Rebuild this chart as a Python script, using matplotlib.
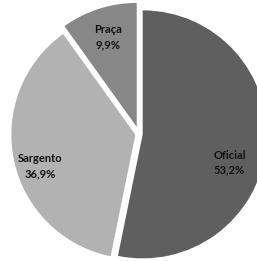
import matplotlib
matplotlib.use("Agg")
import matplotlib.pyplot as plt

# data
categories = ["Oficial", "Sargento", "Praça"]
shares = [53.2, 36.9, 9.9]
share_labels = ["53,2%", "36,9%", "9,9%"]

colors = ["#5f5f5f", "#b2b2b2", "#878787"]
explode = [0.03, 0.03, 0.06]
# label centres in data units (pie radius = 1)
label_pos = [(0.73, -0.23), (-0.80, -0.26), (-0.25, 0.78)]

plt.rcParams['font.family'] = ['Lato', 'DejaVu Sans']

fig = plt.figure(figsize=(2.57, 2.61), dpi=100)
ax = fig.add_axes([0, 0, 1, 1])

ax.pie(shares, colors=colors, explode=explode, startangle=90,
       counterclock=False, radius=1.0,
       wedgeprops=dict(linewidth=0))

for name, lab, (x, y) in zip(categories, share_labels, label_pos):
    ax.text(x, y, name + "\n" + lab, ha="center", va="center",
            fontsize=8, fontweight="bold", color="#111111", linespacing=1.4)

# same scale on both axes (124 px per unit), pie clipped at the right edge
ax.set_aspect("auto")
ax.set_xlim(-139 / 124, 118 / 124)
ax.set_ylim(-127 / 124, 134 / 124)
ax.axis("off")

fig.savefig("out.png", dpi=100)
